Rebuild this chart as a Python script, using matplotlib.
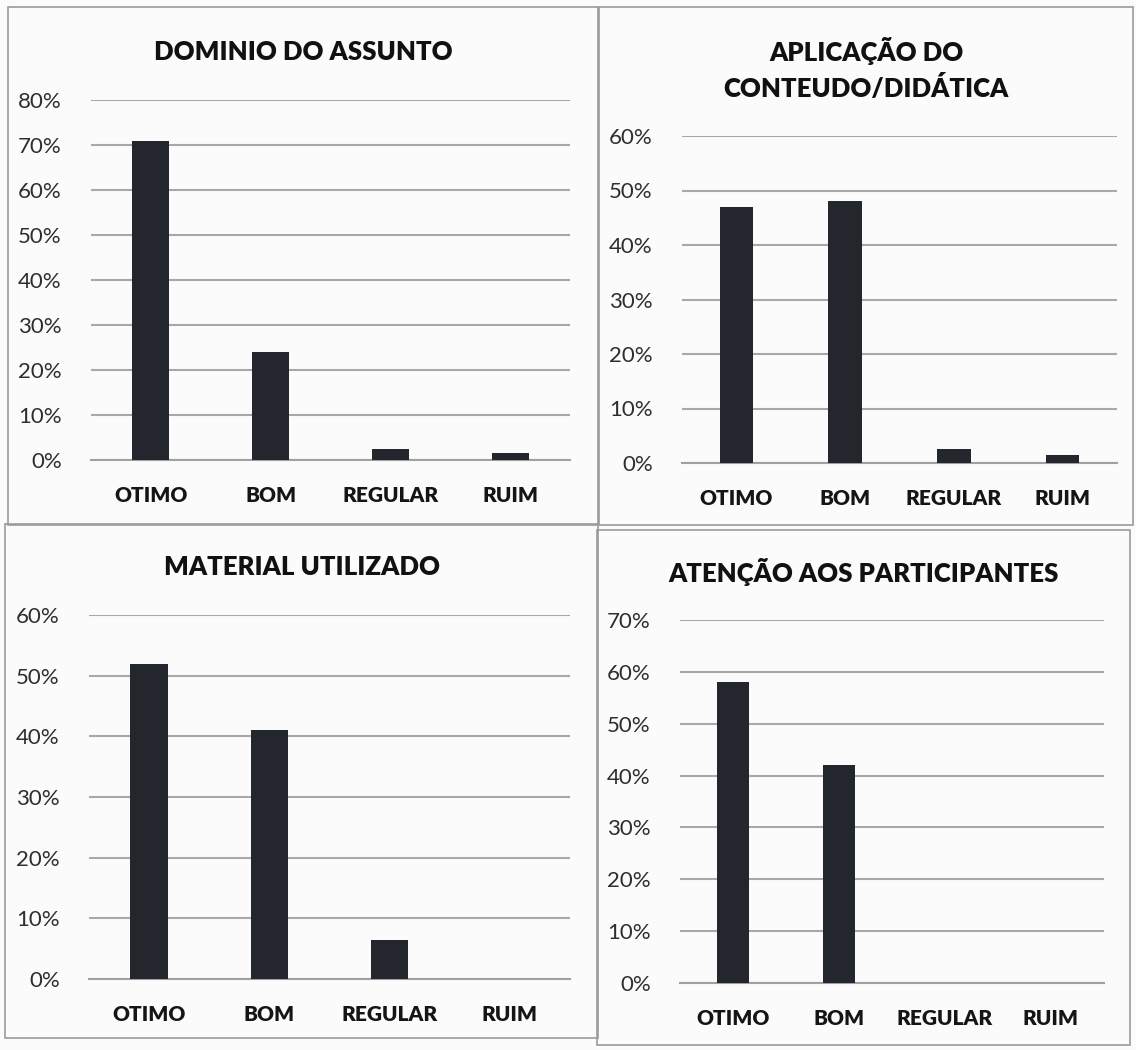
import matplotlib
matplotlib.use('Agg')
import matplotlib.pyplot as plt
from matplotlib.patches import Rectangle
from matplotlib.ticker import PercentFormatter

plt.rcParams['font.family'] = ['Lato', 'DejaVu Sans']

categorias = ['OTIMO', 'BOM', 'REGULAR', 'RUIM']

titulos = ['DOMINIO DO ASSUNTO',
           'APLICAÇÃO DO\nCONTEUDO/DIDÁTICA',
           'MATERIAL UTILIZADO',
           'ATENÇÃO AOS PARTICIPANTES']

dominio = [0.71, 0.24, 0.025, 0.015]
aplicacao = [0.47, 0.48, 0.025, 0.015]
material = [0.52, 0.41, 0.065, 0.0]
atencao = [0.58, 0.42, 0.0, 0.0]

ymax = [0.8, 0.6, 0.6, 0.7]

W, H = 1136, 1050
fig = plt.figure(figsize=(W/100, H/100), dpi=100)
fig.patch.set_facecolor('#fbfbfb')

def frac(x0, y_top, x1, y_bot):
    # pixel box -> figure fraction
    return [x0/W, 1 - y_bot/H, (x1-x0)/W, (y_bot-y_top)/H]

# panel frames (pixels): x0, y0, x1, y1
paineis = [(8, 7, 598, 525), (599, 7, 1133, 525),
           (5, 524, 598, 1038), (597, 530, 1130, 1045)]
for (x0, y0, x1, y1) in paineis:
    fig.patches.append(Rectangle((x0/W, 1-y1/H), (x1-x0)/W, (y1-y0)/H,
                                 transform=fig.transFigure, fill=False,
                                 edgecolor='#9a9a9a', linewidth=1.2))

# plot areas (pixels): left, top, right, bottom(0%)
areas = [(91, 100, 570, 460), (682, 136, 1117, 463),
         (89, 615, 570, 979), (680, 620, 1104, 983)]
titulo_y = [52, 69, 567, 572]
dados = [dominio, aplicacao, material, atencao]

for i in range(4):
    ax = fig.add_axes(frac(*areas[i]))
    ax.set_facecolor('none')
    ax.bar(range(4), dados[i], width=0.31, color='#23262d', zorder=3)
    ax.set_ylim(0, ymax[i])
    ax.set_xlim(-0.5, 3.5)
    ax.set_yticks([k/10 for k in range(int(round(ymax[i]*10))+1)])
    ax.yaxis.set_major_formatter(PercentFormatter(1.0, decimals=0))
    ax.set_xticks(range(4))
    ax.set_xticklabels(categorias, fontsize=15, fontweight='heavy', color='#151515')
    ax.tick_params(axis='y', length=0, pad=21, labelsize=16, labelcolor='#2e2e2e')
    ax.tick_params(axis='x', length=0, pad=19)
    ax.grid(axis='y', color='#a8a8a8', linewidth=1.5, zorder=0)
    for s in ['top', 'right', 'left']:
        ax.spines[s].set_visible(False)
    ax.spines['bottom'].set_color('#a0a0a0')
    ax.spines['bottom'].set_linewidth(1.5)

    x0, y0, x1, y1 = paineis[i]
    fig.text((x0+x1)/2/W, 1 - titulo_y[i]/H, titulos[i], ha='center', va='center',
             fontsize=18.5, fontweight='heavy', color='#111111', linespacing=1.45)

plt.savefig('out.png', dpi=100, facecolor=fig.get_facecolor())
